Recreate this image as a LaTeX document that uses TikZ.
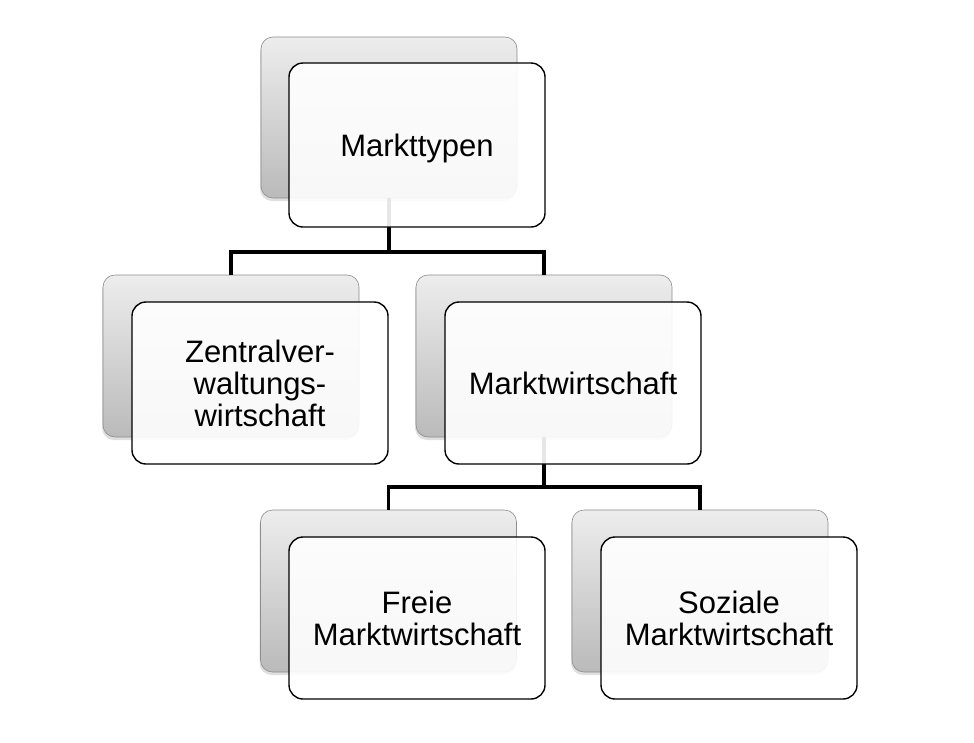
\documentclass[tikz,border=0pt]{standalone}
\usepackage{fontspec}
\setmainfont{Liberation Sans}
\usetikzlibrary{shadows}
\begin{document}
\begin{tikzpicture}[x=1pt,y=-1pt,
  backbox/.style={draw=black!45, line width=0.6pt, rounded corners=12pt,
    top color=black!7, bottom color=black!27,
    minimum width=256pt, minimum height=162pt, inner sep=0pt,
    drop shadow={shadow xshift=-1pt, shadow yshift=-3pt, opacity=0.25}},
  frontbox/.style={draw=black, line width=1.4pt, rounded corners=14pt,
    fill=white, fill opacity=0.9, text opacity=1,
    minimum width=256pt, minimum height=162pt, inner sep=0pt,
    align=center, font=\fontsize{31}{32}\selectfont},
  conn/.style={draw=black, line width=3.6pt}
]
\useasboundingbox (0,0) rectangle (974,742);

% back boxes
\node[backbox, minimum height=161pt] (tb) at (389,117.5) {};
\node[backbox] (zb) at (231,356) {};
\node[backbox] (mb) at (544,356) {};
\node[backbox] (fb) at (388.5,591) {};
\node[backbox] (sb) at (700,591) {};

% connectors
\coordinate (j1) at (389,252);
\coordinate (j2) at (544,487);
\draw[conn] (tb.south) -- (j1) -| (zb.north);
\draw[conn] (j1) -| (mb.north);
\draw[conn] (mb.south) -- (j2) -| (fb.north);
\draw[conn] (j2) -| (sb.north);

% front boxes
\node[frontbox, minimum height=164pt, text depth=0pt] (tf) at (417,145) {Markttypen};
\node[frontbox] (zf) at (260,383) {Zentralver-\\waltungs-\\wirtschaft};
\node[frontbox] (mf) at (573,383) {Marktwirtschaft};
\node[frontbox] (ff) at (417,618) {Freie\\Marktwirtschaft};
\node[frontbox] (sf) at (729,618) {Soziale\\Marktwirtschaft};
\end{tikzpicture}
\end{document}
